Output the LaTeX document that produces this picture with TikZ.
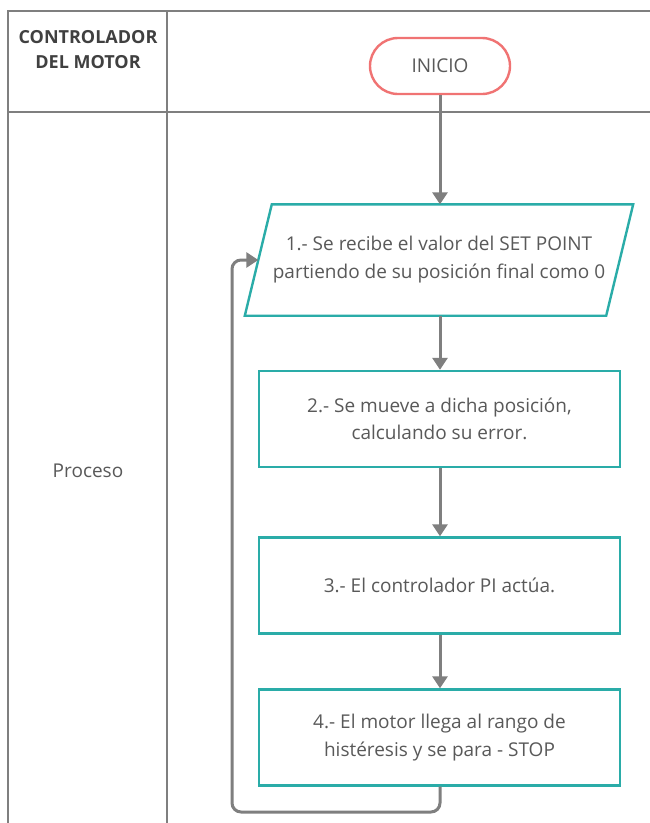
\documentclass[tikz,border=0pt]{standalone}
\usepackage{fontspec}
\setmainfont{Open Sans}
\usetikzlibrary{arrows.meta,calc}
\definecolor{teal1}{HTML}{2AACA8}
\definecolor{salmon1}{HTML}{F07373}
\definecolor{grayline}{HTML}{7F7F7F}
\definecolor{txt}{HTML}{595959}
\definecolor{hdr}{HTML}{404040}
\tikzset{
  tableline/.style={draw=grayline, line width=2.4pt},
  procbox/.style={draw=teal1, line width=2.4pt, minimum width=361pt, minimum height=96pt, align=center, text=txt, font=\fontsize{19}{27.5}\selectfont, inner sep=0pt},
  startbox/.style={draw=salmon1, line width=2.4pt, rounded corners=28pt, minimum width=140pt, minimum height=56pt, text=txt, font=\fontsize{19}{22}\selectfont},
  flow/.style={draw=grayline, line width=3pt, -{Triangle[width=15pt,length=12pt]}},
  lanelabel/.style={text=txt, font=\fontsize{19}{22}\selectfont},
}
\begin{document}
\begin{tikzpicture}[x=1pt,y=-1pt]
\useasboundingbox (0,0) rectangle (650,823);
\fill[white] (0,0) rectangle (650,823);
% table
\draw[tableline] (670,11) -- (8,11) -- (8,840);
\draw[tableline] (8,112) -- (670,112);
\draw[tableline] (167,11) -- (167,840);
\node[text=hdr, font=\bfseries\fontsize{18}{25}\selectfont, align=center, inner sep=0pt] (hdr) at (88,50) {CONTROLADOR\\DEL MOTOR};
\node[lanelabel] (lane) at (88,471) {Proceso};
% nodes
\node[startbox] (ini) at (440,66) {INICIO};
\node[minimum width=388pt, minimum height=111pt, inner sep=0pt, align=center, text=txt, font=\fontsize{19}{28}\selectfont] (p1) at (439,260) {1.- Se recibe el valor del SET POINT\\partiendo de su posición final como 0};
\draw[teal1, line width=2.4pt, line join=miter] ($(p1.north west)+(27,0)$) -- (p1.north east) -- ($(p1.south east)-(27,0)$) -- (p1.south west) -- cycle;
\coordinate (pin) at ($(p1.south west)!0.5!($(p1.north west)+(27,0)$)$);
\node[procbox] (b2) at (439.5,419) {2.- Se mueve a dicha posición,\\calculando su error.};
\node[procbox] (b3) at (439.5,585.5) {3.- El controlador PI actúa.};
\node[procbox] (b4) at (439.5,737.5) {4.- El motor llega al rango de\\histéresis y se para - STOP};
% connectors
\draw[flow] (ini.south) -- (ini.south |- p1.north);
\draw[flow] (ini.south |- p1.south) -- (ini.south |- b2.north);
\draw[flow] (ini.south |- b2.south) -- (ini.south |- b3.north);
\draw[flow] (ini.south |- b3.south) -- (ini.south |- b4.north);
\coordinate (lb) at (232,812);
\draw[flow, rounded corners=9pt] (ini.south |- b4.south) -- (ini.south |- lb) -- (lb) -- (lb |- pin) -- (pin);
\end{tikzpicture}
\end{document}
